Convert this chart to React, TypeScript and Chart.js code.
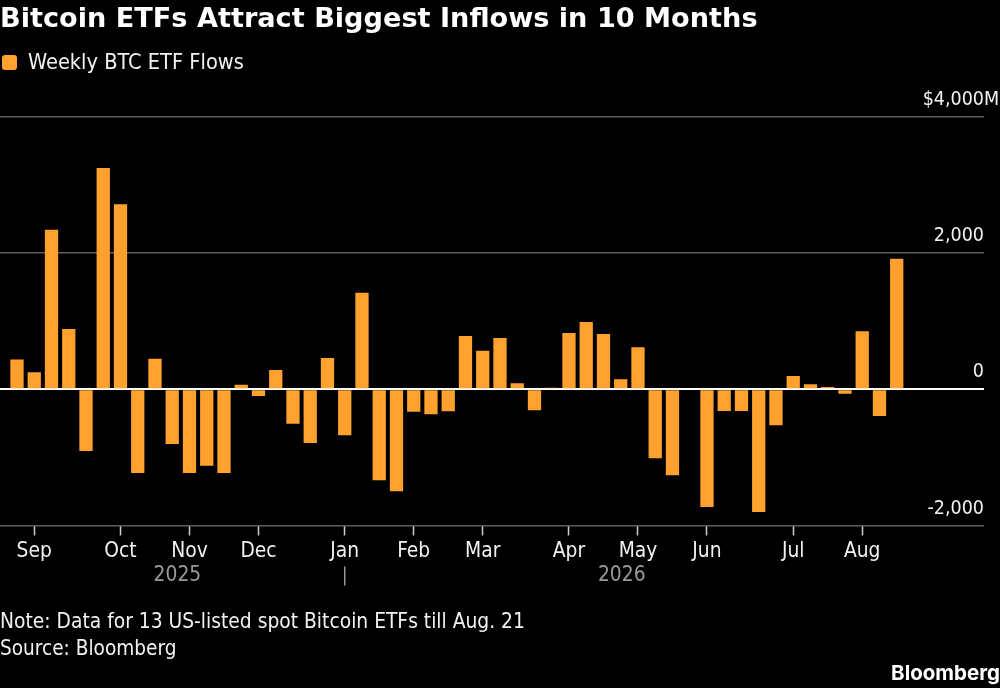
import React, { useEffect, useRef } from 'react';
import { Chart, registerables } from 'chart.js';

Chart.register(...registerables);

const FONT = '"DejaVu Sans Condensed", "DejaVu Sans", sans-serif';
const ORANGE = '#ffa12e';

// weekly flows in $M (week 39 has no visible bar)
const weeklyFlows = [
  440, 250, 2345, 886, -905, 3250, 2717, -1229, 450, -803,
  -1229, -1121, -1229, 68, -98, 284, -504, -788, 460, -675,
  1420, -1336, -1498, -328, -367, -323, 783, 568, 754, 88,
  -308, 24, 827, 989, 813, 147, 617, -1013, -1263, 0,
  -1728, -318, -318, -1801, -529, 196, 73, 34, -64, 852,
  -392, 1919
];
const monthLabels = ['Sep', 'Oct', 'Nov', 'Dec', 'Jan', 'Feb', 'Mar', 'Apr', 'May', 'Jun', 'Jul', 'Aug'];
const monthWeeks = [1, 6, 10, 14, 19, 23, 27, 32, 36, 40, 45, 49];
const yTicks = [-2000, 0, 2000, 4000];
const yTickLabels = ['-2,000', '0', '2,000', '$4,000M'];
const yearLabels = ['2025', '2026'];
const yearBreakWeek = 19;

// tick labels sit above their gridline, right aligned, the "M" hangs past the edge.
// year labels and the divider go under the month row
const extraLabels = {
  id: 'extraLabels',
  afterDraw(chart: Chart) {
    const { ctx, chartArea, scales } = chart;
    const y = scales.y;
    const x = scales.x;
    ctx.save();
    ctx.font = `19.5px ${FONT}`;
    ctx.fillStyle = '#f2f2f2';
    ctx.textBaseline = 'middle';
    ctx.textAlign = 'right';
    yTicks.forEach((v, i) => {
      const label = yTickLabels[i];
      const hang = label.endsWith('M') ? ctx.measureText('M').width : 0;
      ctx.fillText(label, chartArea.right + hang, y.getPixelForValue(v) - 17);
    });

    const breakX = x.getPixelForValue(yearBreakWeek);
    const firstX = x.getPixelForValue(-0.4);
    const lastX = x.getPixelForValue(weeklyFlows.length - 1);
    ctx.font = `20.8px ${FONT}`;
    ctx.fillStyle = '#9a9a9a';
    ctx.textAlign = 'center';
    ctx.fillText(yearLabels[0], (firstX + breakX) / 2, chartArea.bottom + 50);
    ctx.fillText(yearLabels[1], (breakX + lastX) / 2 + 1, chartArea.bottom + 50);
    ctx.strokeStyle = '#9a9a9a';
    ctx.lineWidth = 1.5;
    ctx.beginPath();
    ctx.moveTo(breakX, chartArea.bottom + 41);
    ctx.lineTo(breakX, chartArea.bottom + 60);
    ctx.stroke();
    ctx.restore();
  }
};

const textStyle: React.CSSProperties = {
  position: 'absolute',
  left: 0,
  color: '#f2f2f2',
  fontFamily: FONT,
  fontSize: 20.8,
  lineHeight: '24px',
  whiteSpace: 'nowrap'
};

export default function App() {
  const canvasRef = useRef<HTMLCanvasElement>(null);

  useEffect(() => {
    document.body.style.margin = '0';
    document.body.style.background = '#000';
    if (!canvasRef.current) return;

    const chart = new Chart(canvasRef.current, {
      type: 'bar',
      data: {
        datasets: [
          {
            label: 'Weekly BTC ETF Flows',
            data: weeklyFlows.map((y, x) => ({ x, y })),
            backgroundColor: ORANGE,
            categoryPercentage: 1,
            barPercentage: 0.77
          }
        ]
      },
      options: {
        animation: false,
        responsive: false,
        layout: { padding: { top: 117, right: 16, bottom: 112.5, left: 0 } },
        plugins: { legend: { display: false }, tooltip: { enabled: false } },
        scales: {
          x: {
            type: 'linear',
            offset: false,
            min: -0.9855,
            max: 56.06,
            afterBuildTicks: (scale) => {
              scale.ticks = monthWeeks.map((value) => ({ value }));
            },
            afterFit: (scale) => {
              scale.height = 50;
            },
            grid: { offset: false, drawOnChartArea: false, tickLength: 10, tickColor: '#d0d0d0', tickWidth: 1.5 },
            border: { display: false },
            ticks: {
              autoSkip: false,
              maxRotation: 0,
              padding: 4,
              color: '#f2f2f2',
              font: { family: FONT, size: 20.8 },
              callback: (_value, index) => monthLabels[index]
            }
          },
          y: {
            position: 'right',
            min: -2000,
            max: 4000,
            afterBuildTicks: (scale) => {
              scale.ticks = yTicks.map((value) => ({ value }));
            },
            grid: {
              drawTicks: false,
              color: (c) => (c.tick.value === 0 ? '#ffffff' : '#5e5e5e'),
              lineWidth: (c) => (c.tick.value === 0 ? 2 : 1.5)
            },
            border: { display: false },
            ticks: { display: false }
          }
        }
      },
      plugins: [extraLabels]
    });

    return () => {
      chart.destroy();
    };
  }, []);

  return (
    <div style={{ position: 'relative', width: 1000, height: 688, background: '#000', overflow: 'hidden' }}>
      <canvas ref={canvasRef} width={1000} height={688} style={{ position: 'absolute', left: 0, top: 0 }} />
      <div style={{ ...textStyle, top: 2, fontFamily: '"DejaVu Sans", sans-serif', fontWeight: 700, fontSize: 27.15, lineHeight: '32px', color: '#fff' }}>
        Bitcoin ETFs Attract Biggest Inflows in 10 Months
      </div>
      <div style={{ position: 'absolute', left: 2, top: 55, width: 15, height: 15, borderRadius: 3, background: ORANGE }} />
      <div style={{ ...textStyle, left: 28, top: 50, fontSize: 21.6 }}>Weekly BTC ETF Flows</div>
      <div style={{ ...textStyle, top: 609 }}>Note: Data for 13 US-listed spot Bitcoin ETFs till Aug. 21</div>
      <div style={{ ...textStyle, top: 636, fontSize: 20.6 }}>Source: Bloomberg</div>
      <div style={{ ...textStyle, left: 'auto', right: 0, top: 661, fontFamily: 'Inter, sans-serif', fontWeight: 700, fontSize: 20.5, color: '#fff' }}>
        Bloomberg
      </div>
    </div>
  );
}
